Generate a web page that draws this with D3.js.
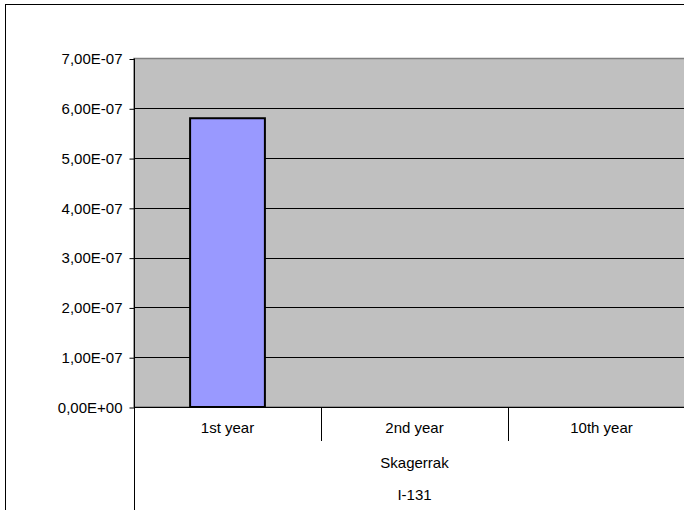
<!DOCTYPE html>
<html>
<head>
<meta charset="utf-8">
<script src="https://cdn.jsdelivr.net/npm/d3@7/dist/d3.min.js"></script>
<style>
  html, body { margin: 0; padding: 0; background: #fff; }
  svg { display: block; font-family: "Liberation Sans", Arial, sans-serif; }
</style>
</head>
<body>
<svg id="chart" width="684" height="510"></svg>
<script>
// Chart data
const categories = ["1st year", "2nd year", "10th year"];
const values = [5.8e-7, null, null];
const groupLabel = "Skagerrak";
const nuclideLabel = "I-131";
const yTicks = [0, 1e-7, 2e-7, 3e-7, 4e-7, 5e-7, 6e-7, 7e-7];
const yTickLabels = ["0,00E+00", "1,00E-07", "2,00E-07", "3,00E-07", "4,00E-07", "5,00E-07", "6,00E-07", "7,00E-07"];

(function () {
const svg = d3.select("#chart");
const fontSize = 15;

// Outer chart frame
svg.append("rect")
  .attr("x", 5.5).attr("y", 4.5)
  .attr("width", 700).attr("height", 520)
  .attr("fill", "#fff").attr("stroke", "#000").attr("stroke-width", 1);

const plotLeft = 134, plotTop = 58.5, plotBottom = 407, bandW = 187;

const x = d3.scaleBand()
  .domain(categories)
  .range([plotLeft, plotLeft + bandW * categories.length])
  .paddingInner(0).paddingOuter(0);

const y = d3.scaleLinear()
  .domain([0, 7e-7])
  .range([plotBottom, plotTop]);

// Plot area background
svg.append("rect")
  .attr("x", plotLeft).attr("y", y(7e-7))
  .attr("width", x.range()[1] - plotLeft)
  .attr("height", plotBottom - y(7e-7))
  .attr("fill", "#c0c0c0")
  .attr("stroke", "#808080").attr("stroke-width", 1.5);

// Horizontal gridlines
svg.append("g")
  .selectAll("line")
  .data(yTicks.slice(1, -1))
  .join("line")
  .attr("x1", plotLeft).attr("x2", x.range()[1])
  .attr("y1", d => Math.round(y(d)) + 0.5)
  .attr("y2", d => Math.round(y(d)) + 0.5)
  .attr("stroke", "#000").attr("stroke-width", 1);

// Bars
svg.append("g")
  .selectAll("rect")
  .data(categories.map((c, i) => ({ c, v: values[i] })).filter(d => d.v != null))
  .join("rect")
  .attr("x", d => x(d.c) + x.bandwidth() * 0.3)
  .attr("width", x.bandwidth() * 0.4)
  .attr("y", d => y(d.v))
  .attr("height", d => plotBottom - y(d.v))
  .attr("fill", "#9999ff")
  .attr("stroke", "#000").attr("stroke-width", 2);

// Y axis
const yAxis = d3.axisLeft(y)
  .tickValues(yTicks)
  .tickFormat((d, i) => yTickLabels[i])
  .tickSize(5)
  .tickSizeOuter(0);

const gy = svg.append("g")
  .attr("transform", `translate(${plotLeft + 0.5},0.5)`)
  .call(yAxis);
gy.select(".domain").remove();
gy.selectAll(".tick line").attr("stroke", "#000");
gy.selectAll(".tick text")
  .attr("font-family", "Liberation Sans, Arial, sans-serif")
  .attr("font-size", fontSize)
  .attr("fill", "#000")
  .attr("x", -12);

// Vertical axis line running through the category label rows
svg.append("line")
  .attr("x1", plotLeft + 0.5).attr("x2", plotLeft + 0.5)
  .attr("y1", y(7e-7)).attr("y2", 510)
  .attr("stroke", "#000");

// Category axis baseline
svg.append("line")
  .attr("x1", plotLeft).attr("x2", x.range()[1])
  .attr("y1", plotBottom + 0.5).attr("y2", plotBottom + 0.5)
  .attr("stroke", "#000");

// Category separators
svg.append("g")
  .selectAll("line")
  .data(categories.slice(1))
  .join("line")
  .attr("x1", d => Math.round(x(d)) + 0.5)
  .attr("x2", d => Math.round(x(d)) + 0.5)
  .attr("y1", plotBottom).attr("y2", 441)
  .attr("stroke", "#000");

// Category labels
svg.append("g")
  .selectAll("text")
  .data(categories)
  .join("text")
  .attr("x", d => x(d) + x.bandwidth() / 2)
  .attr("y", 433)
  .attr("text-anchor", "middle")
  .attr("font-size", fontSize)
  .text(d => d);

const midAll = x(categories[1]) + x.bandwidth() / 2;

svg.append("text")
  .attr("x", midAll).attr("y", 468)
  .attr("text-anchor", "middle")
  .attr("font-size", fontSize)
  .text(groupLabel);

svg.append("text")
  .attr("x", midAll).attr("y", 500)
  .attr("text-anchor", "middle")
  .attr("font-size", fontSize)
  .text(nuclideLabel);
})();
</script>
</body>
</html>
